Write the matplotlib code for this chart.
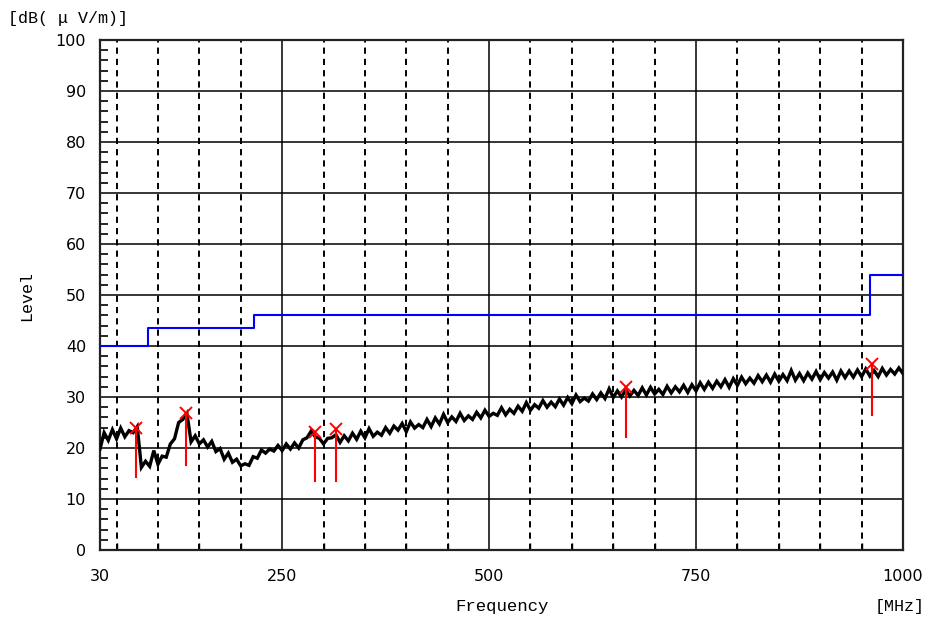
import matplotlib
matplotlib.use("Agg")
import matplotlib.pyplot as plt
import numpy as np

# ---------------- data ----------------
freq_start, freq_step = 30, 5
trace_level = [
    19.8, 23.0, 21.5, 23.6, 21.8, 23.9, 22.2, 23.4, 23.0, 24.2,
    16.2, 17.4, 16.4, 19.5, 16.8, 18.4, 18.2, 20.8, 21.8, 25.0,
    25.6, 26.8, 21.2, 22.4, 20.8, 21.6, 20.2, 21.3, 19.3, 19.9,
    17.8, 19.0, 17.2, 17.8, 16.5, 16.9, 16.6, 18.3, 18.0, 19.6,
    19.0, 19.8, 19.4, 20.5, 19.5, 20.8, 19.8, 21.0, 20.0, 21.6,
    22.0, 23.3, 22.2, 21.9, 20.8, 21.9, 22.0, 22.6, 21.1, 22.4,
    21.4, 22.9, 21.7, 23.3, 22.0, 23.8, 22.3, 23.1, 22.5, 24.0,
    22.9, 24.3, 23.5, 24.8, 23.2, 25.1, 23.9, 24.6, 24.0, 25.6,
    24.2, 25.9, 24.7, 26.6, 25.0, 26.1, 25.2, 26.8, 25.4, 26.3,
    25.6, 27.0, 25.9, 27.4, 26.2, 26.8, 26.4, 27.9, 26.5, 27.6,
    26.8, 28.2, 27.2, 28.9, 27.4, 28.5, 27.8, 29.3, 28.0, 29.0,
    28.1, 29.6, 28.4, 29.9, 28.7, 30.4, 29.1, 29.8, 29.2, 30.6,
    29.5, 30.8, 29.7, 31.6, 29.9, 31.2, 30.0, 31.4, 30.2, 31.3,
    30.3, 31.8, 30.4, 31.9, 30.6, 31.5, 30.5, 32.1, 30.8, 32.0,
    31.0, 32.3, 30.9, 32.4, 31.2, 32.8, 31.5, 32.9, 31.7, 33.1,
    32.0, 33.4, 31.9, 33.6, 32.3, 33.9, 32.6, 33.7, 32.7, 34.2,
    33.0, 34.3, 32.9, 34.5, 33.1, 34.4, 33.2, 35.2, 33.3, 34.6,
    33.2, 34.7, 33.5, 35.0, 33.4, 34.8, 33.7, 34.9, 33.3, 35.1,
    33.8, 35.1, 33.9, 35.3, 34.0, 35.5, 34.1, 35.2, 34.0, 35.6,
    34.3, 35.4, 34.5, 35.7, 34.6,
]
trace_freq = [freq_start + freq_step * i for i in range(len(trace_level))]

limit_freq = [30, 88, 216, 960, 1000]
limit_level = [40, 43.5, 46, 54, 54]

peak_freq = [74, 134, 290, 315, 665, 962]
peak_level = [24.0, 26.9, 23.1, 23.7, 32.0, 36.5]
qp_level = [14.3, 16.7, 13.5, 13.5, 22.2, 26.5]

x_ticks = [30, 250, 500, 750, 1000]
y_ticks = list(range(0, 101, 10))
dashed_x = [50, 100, 150, 200, 300, 350, 400, 450, 550, 600, 650, 700,
            800, 850, 900, 950]
solid_x = [250, 500, 750]

# ---------------- figure ----------------
fig = plt.figure(figsize=(9.3, 6.21), dpi=100)
ax = fig.add_axes([100 / 930, 1 - 550 / 621, 803 / 930, 510 / 621])
ax.set_xlim(30, 1000)
ax.set_ylim(0, 100)

# grid
for y in y_ticks[1:-1]:
    ax.axhline(y, color="black", lw=1.1, zorder=1)
for x in solid_x:
    ax.axvline(x, color="black", lw=1.1, zorder=1)
for x in dashed_x:
    ax.axvline(x, color="black", lw=1.4, ls=(0, (3.2, 2.6)), zorder=1)

# limit line
ax.step(limit_freq, limit_level, where="post", color="#0000ff", lw=1.5, zorder=3)

# trace
ax.plot(trace_freq, trace_level, color="black", lw=2.4, zorder=4,
        solid_joinstyle="miter")

# peaks
for f, pk, qp in zip(peak_freq, peak_level, qp_level):
    ax.plot([f, f], [qp, pk], color="#ff0000", lw=1.5, zorder=5)
ax.plot(peak_freq, peak_level, ls="none", marker="x", color="#ff0000",
        ms=9, mew=1.4, zorder=6)

# ticks
ax.set_xticks(x_ticks)
ax.set_xticklabels([str(v) for v in x_ticks])
ax.set_yticks(y_ticks)
ax.set_yticklabels([str(v) for v in y_ticks])
ax.set_yticks(np.arange(0, 101, 2), minor=True)
ax.set_xticks(dashed_x, minor=True)
ax.tick_params(axis="both", which="both", direction="in", labelsize=11.5,
               labelfontfamily="DejaVu Sans")
ax.tick_params(axis="y", which="major", length=0, pad=10)
ax.tick_params(axis="y", which="minor", length=6, width=1.2)
ax.tick_params(axis="x", which="major", length=0, pad=14)
ax.tick_params(axis="x", which="minor", length=5, width=1.0)

for s in ax.spines.values():
    s.set_linewidth(1.6)
    s.set_color("#222222")

mono = "Liberation Mono"
fig.text(502 / 930, 1 - 607 / 621, "Frequency", ha="center", va="center",
         family=mono, fontsize=12.5)
fig.text(900 / 930, 1 - 606 / 621, "[MHz]", ha="center", va="center",
         family=mono, fontsize=12)
fig.text(27 / 930, 1 - 296 / 621, "Level", ha="center", va="center",
         rotation=90, family=mono, fontsize=12)
fig.text(8 / 930, 1 - 19 / 621, "[dB( \u03bc V/m)]", ha="left", va="center",
         family=mono, fontsize=12)

fig.savefig("out.png", dpi=100)
